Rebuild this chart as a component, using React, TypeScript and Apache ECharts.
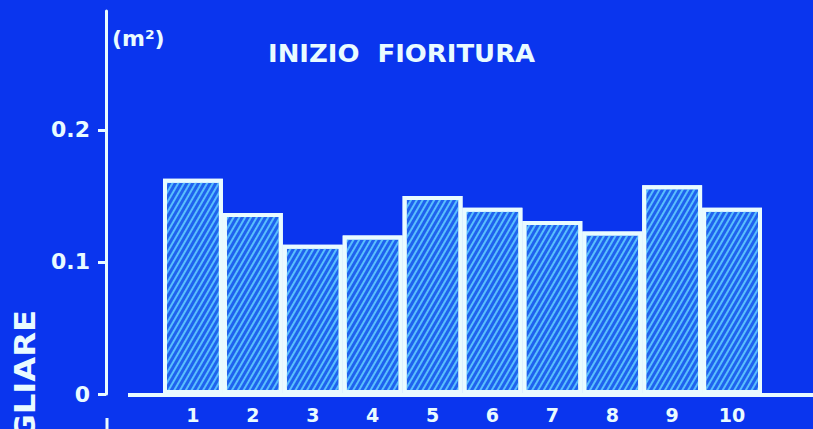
import React, { useEffect, useRef } from "react";
import * as echarts from "echarts";

// Leaf area per plant at the start of flowering, by line number
const categories = ["1", "2", "3", "4", "5", "6", "7", "8", "9", "10"];
const leafArea = [0.163, 0.137, 0.113, 0.12, 0.15, 0.141, 0.131, 0.123, 0.158, 0.141];
const yTicks = [0, 0.1, 0.2];
const yTickLabels = ["0", "0.1", "0.2"];

const BG = "#0a35ee";
const INK = "#e9fbff";
const FONT = "'DejaVu Sans', sans-serif";

export default function App() {
  const ref = useRef<HTMLDivElement>(null);

  useEffect(() => {
    if (!ref.current) return;
    const chart = echarts.init(ref.current, undefined, { renderer: "svg" });
    chart.setOption({
      animation: false,
      backgroundColor: BG,
      grid: { left: 163, right: 51, top: 11, bottom: 35 },
      xAxis: {
        type: "category",
        data: categories,
        axisLine: { show: false },
        axisTick: { show: false },
        axisLabel: {
          color: INK,
          fontFamily: FONT,
          fontWeight: "bold",
          fontSize: 19,
          margin: 11,
        },
      },
      yAxis: {
        type: "value",
        min: 0,
        max: 0.29,
        offset: 57,
        splitLine: { show: false },
        axisLine: { show: true, lineStyle: { color: INK, width: 3 } },
        axisTick: {
          show: true,
          length: 8,
          customValues: yTicks,
          lineStyle: { color: INK, width: 3 },
        },
        axisLabel: {
          customValues: yTicks,
          color: INK,
          fontFamily: FONT,
          fontWeight: "bold",
          fontSize: 22,
          margin: 16,
          formatter: (v: number) => yTickLabels[yTicks.indexOf(v)] ?? "",
        },
      },
      series: [
        {
          type: "bar",
          data: leafArea,
          barCategoryGap: "0%",
          itemStyle: {
            color: "#1f62ee",
            borderColor: INK,
            borderWidth: 4,
            decal: {
              symbol: "rect",
              symbolSize: 1,
              color: "rgba(95, 200, 255, 0.9)",
              dashArrayX: [1, 0],
              dashArrayY: [2, 3],
              rotation: -Math.PI / 3,
            },
          },
        },
      ],
      graphic: [
        {
          type: "line",
          z: 10,
          shape: { x1: 128, y1: 395, x2: 813, y2: 395 },
          style: { stroke: INK, lineWidth: 4 },
        },
        {
          type: "line",
          shape: { x1: 107, y1: 418, x2: 107, y2: 429 },
          style: { stroke: INK, lineWidth: 3 },
        },
        {
          type: "text",
          x: 268,
          y: 54,
          scaleX: 1.08,
          style: {
            text: "INIZIO  FIORITURA",
            fill: INK,
            font: `bold 24px ${FONT}`,
            textAlign: "left",
            textVerticalAlign: "middle",
          },
        },
        {
          type: "text",
          x: 112,
          y: 38,
          style: {
            text: "(m²)",
            fill: INK,
            font: `bold 22px ${FONT}`,
            textAlign: "left",
            textVerticalAlign: "middle",
          },
        },
        {
          type: "text",
          x: 25,
          y: 310,
          rotation: Math.PI / 2,
          scaleX: 1.15,
          style: {
            text: "SUPERFICIE FOGLIARE",
            fill: INK,
            font: `bold 28px ${FONT}`,
            textAlign: "right",
            textVerticalAlign: "middle",
          },
        },
      ],
    });
    return () => chart.dispose();
  }, []);

  return <div ref={ref} style={{ width: 813, height: 429, position: "fixed", left: 0, top: 0 }} />;
}
